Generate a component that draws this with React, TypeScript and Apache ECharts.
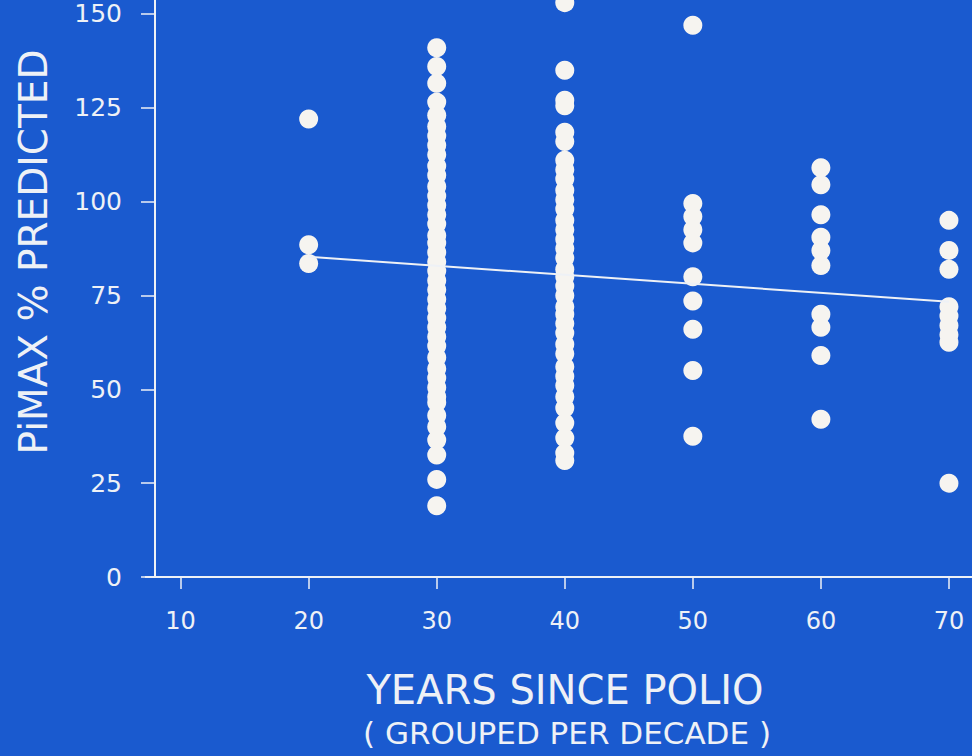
import React, { useEffect, useRef } from "react";
import * as echarts from "echarts";

const decades = [20, 30, 40, 50, 60, 70];
const group20 = [122, 88.5, 83.5];
const group30 = [141, 136, 131.5, 126.5, 123, 120, 117.5, 115, 112.5, 109.5, 107, 104, 101.5, 99, 96.5, 94, 91, 89, 86.5, 84, 81.5, 79, 76.5, 74, 71.5, 69, 66.5, 64, 61.5, 58.5, 55.5, 53, 50.5, 48, 46.5, 43, 40, 36.5, 32.5, 26, 19];
const group40 = [153, 135, 127, 125.5, 118.5, 116, 111, 108.5, 106, 103, 100.5, 98, 95, 92.5, 90, 87.5, 85, 82, 80, 77.5, 75, 72, 70, 67.5, 65, 62, 59.5, 56, 53.5, 51, 48, 45, 41, 37, 33, 31];
const group50 = [147, 99.5, 96, 92.5, 89, 80, 73.5, 66, 55, 37.5];
const group60 = [109, 104.5, 96.5, 90.5, 87, 83, 70, 66.5, 59, 42];
const group70 = [95, 87, 82, 72, 69.5, 67, 64.5, 62.5, 25];
const groups = [group20, group30, group40, group50, group60, group70];
const regX = [20, 70];
const regY = [85.3, 73.3];
const xTicks = [10, 20, 30, 40, 50, 60, 70];
const yTicks = [0, 25, 50, 75, 100, 125, 150];

const BG = "#1a5acf";
const FG = "#eef1f6";

export default function App() {
  const ref = useRef<HTMLDivElement>(null);
  useEffect(() => {
    if (!ref.current) return;
    const chart = echarts.init(ref.current, null, { renderer: "svg" });
    const points: number[][] = [];
    groups.forEach((g, i) => g.forEach((v) => points.push([decades[i], v])));
    chart.setOption({
      animation: false,
      backgroundColor: BG,
      textStyle: { fontFamily: "DejaVu Sans" },
      grid: { left: 155, right: 0, top: 0, bottom: 179 },
      xAxis: {
        type: "value",
        min: 8,
        max: 71.8,
        splitLine: { show: false },
        axisLine: { show: true, lineStyle: { color: FG, width: 2 } },
        axisTick: { show: true, length: 12, customValues: xTicks, lineStyle: { color: FG, width: 1.5 } },
        axisLabel: { customValues: xTicks, color: FG, fontSize: 24, margin: 32, fontFamily: "DejaVu Sans" },
      },
      yAxis: {
        type: "value",
        min: 0,
        max: 153.7,
        splitLine: { show: false },
        axisLine: { show: true, lineStyle: { color: FG, width: 2 } },
        axisTick: { show: true, length: 14, customValues: yTicks, lineStyle: { color: FG, width: 1.5 } },
        axisLabel: { customValues: yTicks, color: FG, fontSize: 25, margin: 33, fontFamily: "DejaVu Sans" },
      },
      series: [
        {
          type: "scatter",
          data: points,
          symbolSize: 19,
          itemStyle: { color: "#f6f4f0", opacity: 1 },
          clip: false,
          z: 3,
        },
        {
          type: "line",
          data: regX.map((x, i) => [x, regY[i]]),
          symbol: "none",
          lineStyle: { color: FG, width: 2 },
          z: 4,
        },
      ],
      graphic: [
        { type: "line", shape: { x1: 145, y1: 577, x2: 156, y2: 577 }, style: { stroke: FG, lineWidth: 2 } },
        {
          type: "text",
          x: 33,
          y: 252,
          rotation: Math.PI / 2,
          style: { text: "PiMAX % PREDICTED", fill: FG, fontSize: 39, fontFamily: "DejaVu Sans", align: "center", verticalAlign: "middle" },
        },
        {
          type: "text",
          x: 565,
          y: 690,
          style: { text: "YEARS SINCE POLIO", fill: FG, fontSize: 40, fontFamily: "DejaVu Sans", align: "center", verticalAlign: "middle" },
        },
        {
          type: "text",
          x: 567,
          y: 733,
          style: { text: "( GROUPED PER DECADE )", fill: FG, fontSize: 31, fontFamily: "DejaVu Sans", align: "center", verticalAlign: "middle" },
        },
      ],
    });
    return () => chart.dispose();
  }, []);
  return <div ref={ref} style={{ position: "fixed", left: 0, top: 0, width: 972, height: 756 }} />;
}
